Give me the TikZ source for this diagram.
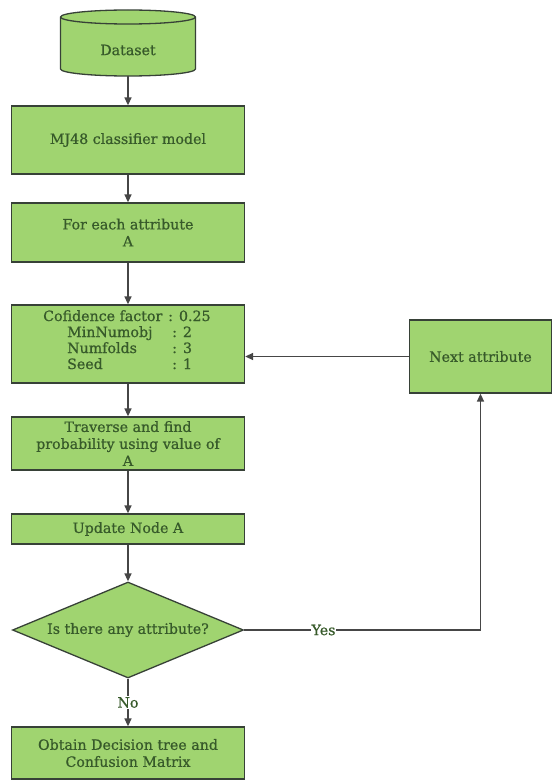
\documentclass[tikz,border=0pt]{standalone}
\usepackage{fontspec}
\setmainfont{DejaVu Serif}[FakeBold=0.7]
\usetikzlibrary{arrows.meta,shapes.geometric}
\definecolor{boxfill}{RGB}{160,212,112}
\definecolor{boxline}{RGB}{55,65,55}
\definecolor{txt}{RGB}{55,90,42}
\definecolor{arr}{RGB}{70,70,70}
\begin{document}
\begin{tikzpicture}[x=1pt,y=1pt,
  box/.style={draw=boxline, fill=boxfill, line width=1.3pt, minimum width=233pt, text=txt, align=center, font=\fontsize{14.2}{17}\selectfont, inner sep=0pt},
  lbl/.style={text=txt, font=\fontsize{14.2}{17}\selectfont, inner sep=0pt},
  conn/.style={draw=arr, line width=1.5pt, -{Triangle[length=8pt,width=7pt]}}]
\useasboundingbox (0,0) rectangle (552,-781);
\fill[white] (0,0) rectangle (552,-781);
% Dataset cylinder
\filldraw[draw=boxline, fill=boxfill, line width=1.3pt] (60.5,-17) -- (60.5,-69) arc (180:360:67.5 and 7) -- (195.5,-17) arc (0:180:67.5 and 7) -- cycle;
\draw[draw=boxline, line width=1.3pt] (60.5,-17) arc (180:360:67.5 and 7);
\node[lbl, minimum width=135pt, minimum height=66pt] (ds) at (128,-43) {};
\node[lbl] (dstext) at (128,-50) {Dataset};
% boxes
\node[box, minimum height=68pt] (mj) at (128,-140) {MJ48 classifier model};
\node[box, minimum height=59pt] (fe) at (128,-232.5) {For each attribute\\A};
\node[box, minimum height=78pt] (cf) at (128,-344) {};
\node[lbl, anchor=base west] (c1a) at (43,-321) {Cofidence factor};
\node[lbl, anchor=base west] (c1b) at (168,-321) {: 0.25};
\node[lbl, anchor=base west] (c2a) at (67,-337) {MinNumobj};
\node[lbl, anchor=base west] (c2b) at (172,-337) {: 2};
\node[lbl, anchor=base west] (c3a) at (67,-353) {Numfolds};
\node[lbl, anchor=base west] (c3b) at (172,-353) {: 3};
\node[lbl, anchor=base west] (c4a) at (67,-369) {Seed};
\node[lbl, anchor=base west] (c4b) at (172,-369) {: 1};
\node[box, minimum height=53pt] (tr) at (128,-443.5) {Traverse and find\\probability using value of\\A};
\node[box, minimum height=30pt] (up) at (128,-529) {Update Node A};
\node[box, diamond, minimum width=231pt, minimum height=96pt, aspect=2.4] (dia) at (128,-630) {Is there any attribute?};
\node[box, minimum height=52pt] (ob) at (128,-753) {Obtain Decision tree and\\Confusion Matrix};
\node[box, minimum width=142pt, minimum height=73pt] (nx) at (480.5,-356.5) {Next attribute};
% connectors
\draw[conn] (ds.south) -- (mj.north);
\draw[conn] (mj.south) -- (fe.north);
\draw[conn] (fe.south) -- (cf.north);
\draw[conn] (cf.south) -- (tr.north);
\draw[conn] (tr.south) -- (up.north);
\draw[conn] (up.south) -- (dia.north);
\draw[conn] (dia.south) -- node[lbl, fill=white, inner sep=1.5pt] (no) {No} (ob.north);
\draw[conn] (nx.west) -- (nx.west -| cf.east);
\draw[conn] (dia.east) -| node[lbl, fill=white, inner sep=1pt, pos=0.168] (yes) {Yes} (nx.south);
\end{tikzpicture}
\end{document}
